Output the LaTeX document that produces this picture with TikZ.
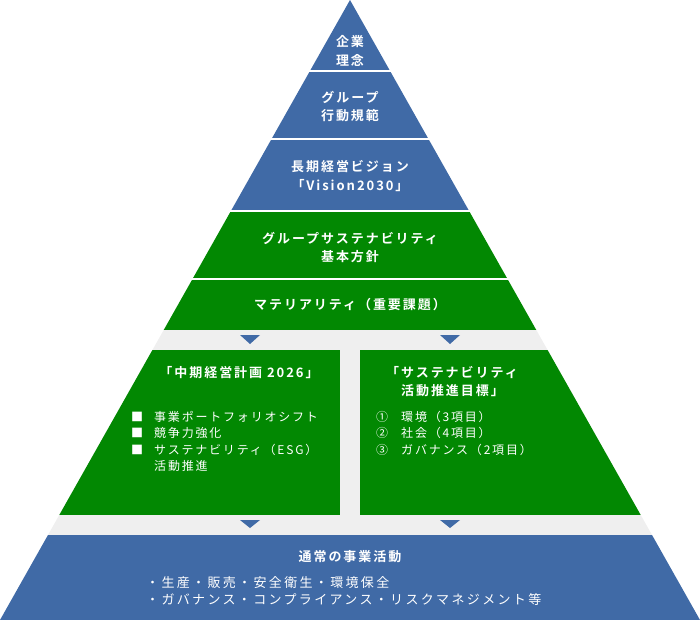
\documentclass[tikz,border=0pt]{standalone}
\usepackage{fontspec}
\setmainfont{Noto Sans CJK JP}[BoldFont={Noto Sans CJK JP Bold}]
\definecolor{pblue}{HTML}{406AA6}
\definecolor{pgreen}{HTML}{028802}
\definecolor{pgray}{HTML}{EFEFEF}
\begin{document}
\begin{tikzpicture}[x=1pt,y=-1pt,
  title/.style={text=white,font=\bfseries\fontsize{13}{18.5}\selectfont\addfontfeatures{LetterSpace=15},align=center,inner sep=0pt},
  item/.style={text=white,font=\fontsize{12}{16.6}\selectfont\addfontfeatures{LetterSpace=15},align=left,anchor=west,inner sep=0pt},
  bitem/.style={text=white,font=\fontsize{13}{17}\selectfont\addfontfeatures{LetterSpace=18},align=left,anchor=west,inner sep=0pt},
  downtri/.style={fill=pblue}]
\useasboundingbox (0,0) rectangle (700,620);
\begin{scope}
  \clip (350,0) -- (700,620) -- (0,620) -- cycle;
  \fill[pblue]  (0,0)   rectangle (700,70);
  \fill[pblue]  (0,72)  rectangle (700,138);
  \fill[pblue]  (0,140) rectangle (700,210);
  \fill[pgreen] (0,212) rectangle (700,278);
  \fill[pgreen] (0,280) rectangle (700,330);
  \fill[pgray]  (0,330) rectangle (700,535);
  \fill[pgreen] (0,350) rectangle (340,515);
  \fill[pgreen] (360,350) rectangle (700,515);
  \fill[pblue]  (0,535) rectangle (700,620);
\end{scope}
% arrows
\fill[downtri] (240,335) -- (260,335) -- (250,344) -- cycle;
\fill[downtri] (440,335) -- (460,335) -- (450,344) -- cycle;
\fill[downtri] (240,520) -- (260,520) -- (250,528) -- cycle;
\fill[downtri] (440,520) -- (460,520) -- (450,528) -- cycle;
% texts
\node[title] (t1) at (350,51) {企業\\理念};
\node[title] (t2) at (350,106.5) {グループ\\行動規範};
\node[title] (t3) at (350,176) {長期経営ビジョン\\「Vision2030」};
\node[title] (t4) at (350,247.5) {グループサステナビリティ\\基本方針};
\node[title] (t5) at (350,305) {マテリアリティ（重要課題）};
\node[title] (m1) at (239,373) {「中期経営計画 2026」};
\node[item] (m2) at (131,441.5) {\makebox[23pt][l]{■}事業ポートフォリオシフト\\\makebox[23pt][l]{■}競争力強化\\\makebox[23pt][l]{■}サステナビリティ（ESG）\\\hspace*{23pt}活動推進};
\node[title,align=left,anchor=west] (s1) at (386,381.5) {「サステナビリティ\\　活動推進目標」};
\node[item] (s2) at (376,433.3) {\makebox[25pt][l]{①}環境（3項目）\\\makebox[25pt][l]{②}社会（4項目）\\\makebox[25pt][l]{③}ガバナンス（2項目）};
\node[title] (b1) at (350,557) {通常の事業活動};
\node[bitem] (b2) at (146,591.5) {・生産・販売・安全衛生・環境保全\\・ガバナンス・コンプライアンス・リスクマネジメント等};
\end{tikzpicture}
\end{document}
